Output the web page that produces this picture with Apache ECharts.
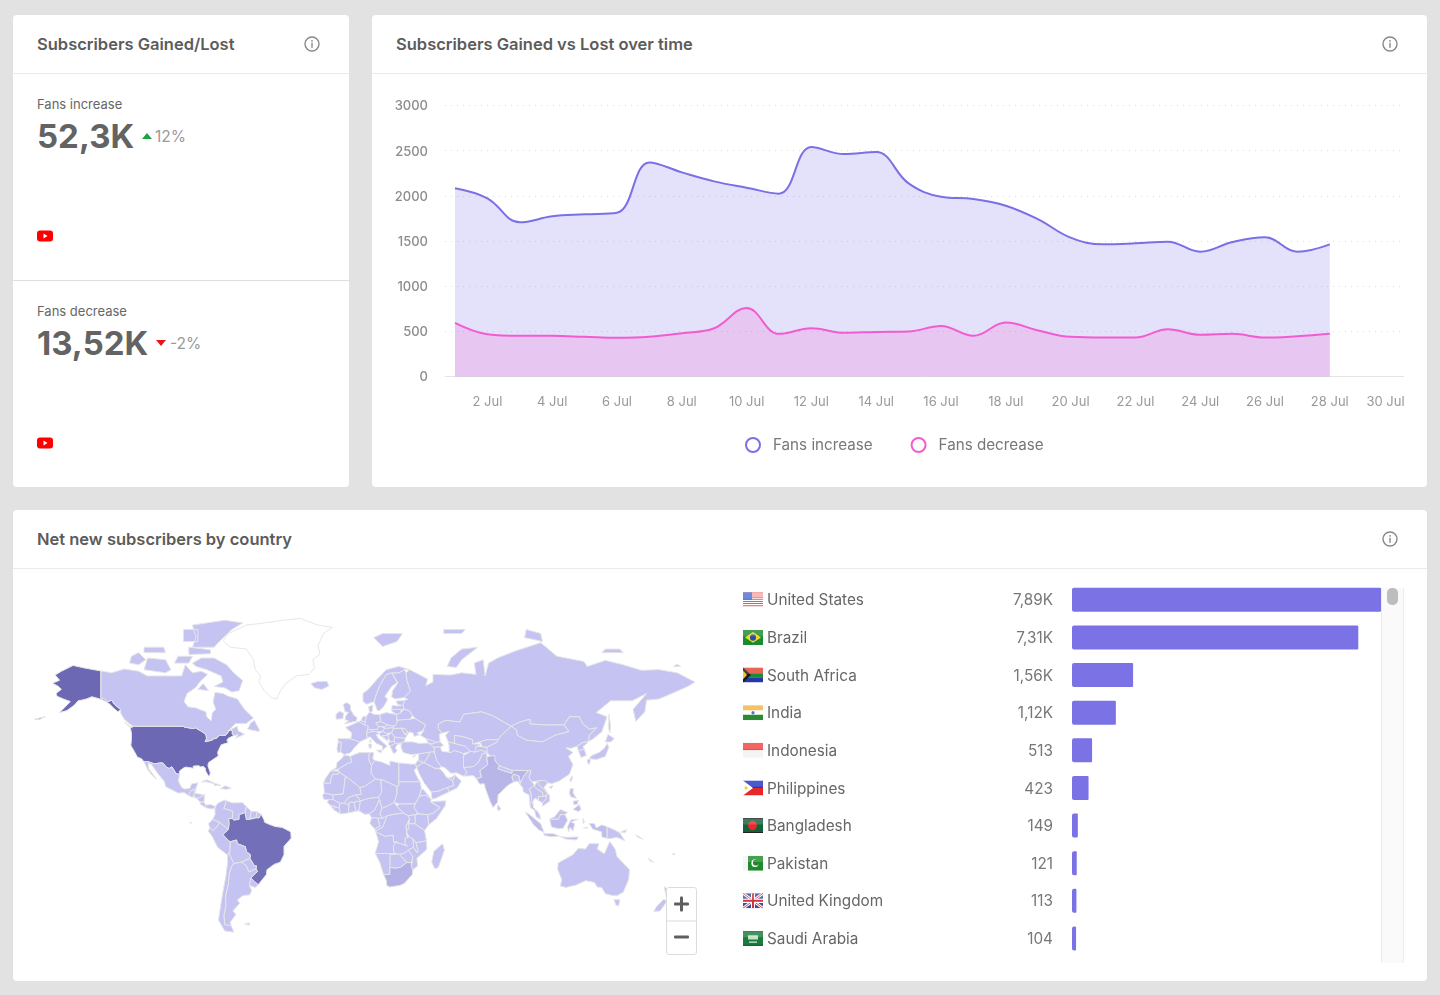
<!DOCTYPE html>
<html>
<head>
<meta charset="utf-8">
<title>Subscribers</title>
<script src="https://cdn.jsdelivr.net/npm/echarts@6/dist/echarts.min.js"></script>
<style>
  html, body { margin: 0; padding: 0; }
  body { width: 1440px; height: 995px; background: #e2e2e2; overflow: hidden; position: relative; font-family: Inter, "Noto Sans", sans-serif; color: #666; }
  .card { position: absolute; background: #fff; border-radius: 4px; }
  .abs { position: absolute; white-space: nowrap; }
  .title { font-size: 16.5px; font-weight: 600; color: #5c5c5c; line-height: 20px; }
  .rule { position: absolute; height: 1px; background: #ebebeb; }
  .label { font-size: 13px; color: #666; line-height: 16px; }
  .kpi { font-size: 33px; font-weight: 700; color: #636363; line-height: 40px; }
  .delta { font-size: 15.5px; color: #999; line-height: 20px; }
  .zoombox { position: absolute; left: 666px; top: 887px; width: 29px; height: 66px; border: 1px solid #dcdcdc; border-radius: 3px; background: #fff; }
</style>
</head>
<body>
<div class="card" style="left:13px;top:15px;width:336px;height:472px"></div>
<div class="card" style="left:372px;top:15px;width:1055px;height:472px"></div>
<div class="card" style="left:13px;top:510px;width:1414px;height:471px"></div>

<div class="abs title" style="left:37px;top:34px">Subscribers Gained/Lost</div>
<div class="abs title" style="left:396px;top:34px">Subscribers Gained vs Lost over time</div>
<div class="abs title" style="left:37px;top:529px">Net new subscribers by country</div>
<div class="rule" style="left:13px;top:73px;width:336px"></div>
<div class="rule" style="left:372px;top:73px;width:1055px"></div>
<div class="rule" style="left:13px;top:568px;width:1414px"></div>
<div class="rule" style="left:13px;top:280px;width:336px;background:#dedede"></div>

<div class="abs label" style="left:37px;top:96px">Fans increase</div>
<div class="abs kpi" style="left:37px;top:116px">52,3K</div>
<svg class="abs" style="left:142px;top:132px" width="10" height="8"><polygon points="5,1 10,7 0,7" fill="#1fa34a"/></svg>
<div class="abs delta" style="left:155px;top:127px">12%</div>

<div class="abs label" style="left:37px;top:303px">Fans decrease</div>
<div class="abs kpi" style="left:37px;top:323px">13,52K</div>
<svg class="abs" style="left:156px;top:339px" width="10" height="8"><polygon points="0,1 10,1 5,7" fill="#e8141c"/></svg>
<div class="abs delta" style="left:170px;top:334px">-2%</div>

<svg class="abs" style="left:37px;top:230px" width="16" height="12"><rect width="16" height="11" y="0.5" rx="3" fill="#f00"/><polygon points="6.5,3.5 10.5,6 6.5,8.5" fill="#fff"/></svg>
<svg class="abs" style="left:37px;top:437px" width="16" height="12"><rect width="16" height="11" y="0.5" rx="3" fill="#f00"/><polygon points="6.5,3.5 10.5,6 6.5,8.5" fill="#fff"/></svg>

<svg class="abs" style="left:304px;top:36px" width="16" height="16"><circle cx="8" cy="8" r="7" fill="none" stroke="#888" stroke-width="1.4"/><circle cx="8" cy="4.8" r="0.9" fill="#888"/><rect x="7.3" y="6.8" width="1.4" height="5" fill="#888"/></svg>
<svg class="abs" style="left:1382px;top:36px" width="16" height="16"><circle cx="8" cy="8" r="7" fill="none" stroke="#888" stroke-width="1.4"/><circle cx="8" cy="4.8" r="0.9" fill="#888"/><rect x="7.3" y="6.8" width="1.4" height="5" fill="#888"/></svg>
<svg class="abs" style="left:1382px;top:531px" width="16" height="16"><circle cx="8" cy="8" r="7" fill="none" stroke="#888" stroke-width="1.4"/><circle cx="8" cy="4.8" r="0.9" fill="#888"/><rect x="7.3" y="6.8" width="1.4" height="5" fill="#888"/></svg>

<div id="lineChart" class="abs" style="left:372px;top:74px;width:1031.5px;height:412px"></div>
<div id="mapChart" class="abs" style="left:13px;top:570px;width:722px;height:405px"></div>

<div class="abs" style="left:1381px;top:588px;width:21px;height:375px;background:#fafafa;border-left:1px solid #ececec;border-right:1px solid #ececec"></div>
<div class="abs" style="left:1387px;top:588px;width:11px;height:17px;border-radius:5px;background:#bdbdbd"></div>
<div id="barChart" class="abs" style="left:735px;top:575px;width:647px;height:390px"></div>

<div class="zoombox">
  <svg width="29" height="66">
    <rect x="0" y="32.5" width="29" height="1" fill="#dcdcdc"/>
    <rect x="7" y="14.5" width="15" height="3" rx="1" fill="#5f5f5f"/>
    <rect x="13" y="8.5" width="3" height="15" rx="1" fill="#5f5f5f"/>
    <rect x="7" y="47.5" width="15" height="3" rx="1" fill="#5f5f5f"/>
  </svg>
</div>

<script>
// daily series
const days = [1,2,3,4,5,6,7,8,9,10,11,12,13,14,15,16,17,18,19,20,21,22,23,24,25,26,27,28]
const fansIncrease = [2083,1972,1707,1773,1795,1813,2370,2260,2160,2090,2024,2540,2462,2484,2138,1990,1965,1891,1740,1537,1463,1474,1493,1382,1489,1541,1382,1463]
const fansDecrease = [593,468,450,450,439,428,439,479,534,759,472,534,483,494,498,560,450,597,509,439,431,431,523,461,472,431,446,472]
// the source squeezes its last label in, so 30 Jul sits left of day 30
const dayTicks = [2,4,6,8,10,12,14,16,18,20,22,24,26,28,29.72]

// country table
const countries = ['United States','Brazil','South Africa','India','Indonesia','Philippines','Bangladesh','Pakistan','United Kingdom','Saudi Arabia']
const countryValues = [7890,7310,1560,1120,513,423,149,121,113,104]
const countryLabels = ['7,89K','7,31K','1,56K','1,12K','513','423','149','121','113','104']

const PURPLE = '#7970e6'
const PINK = '#f25cd0'

// no map file can be fetched here, so the outlines are hand simplified [lon, lat] rings
const geoShapes = {
  'United States': [
    [[-124.7,48.4],[-123,49],[-95.2,49],[-94.6,48.7],[-92,48.3],[-89.6,48],[-88.4,48.3],[-84.9,46.9],[-84.5,46.5],[-83.6,46],[-82.5,45.3],[-82.1,43.6],[-82.9,42.1],[-79,42.8],[-79,43.3],[-76.8,43.6],[-75,45],[-71.5,45],[-70.3,46.2],[-69.2,47.4],[-67.8,47.1],[-67.8,45.7],[-67,44.9],[-70.2,43.6],[-70.8,42.7],[-70,41.7],[-74,40.6],[-75.5,38],[-76,37],[-75.6,35.3],[-77.9,33.9],[-81,32],[-81.4,30.5],[-80.1,26.8],[-80.4,25.2],[-81.2,25.2],[-82.7,27.8],[-82.9,29.2],[-84.1,30.1],[-85.3,29.7],[-86.5,30.4],[-89.6,30.2],[-89.4,29.1],[-91.3,29.4],[-93.8,29.7],[-95,29.2],[-97.2,27.7],[-97.2,25.9],[-99.2,26.4],[-101.4,29.8],[-103,29],[-104.5,29.6],[-106.5,31.8],[-108.2,31.8],[-111,31.3],[-114.8,32.5],[-117.1,32.5],[-118.5,34],[-120.6,34.6],[-122.4,37.5],[-124.3,40.3],[-124,43],[-124,46.2]],
    [[-141,69.6],[-141,60.3],[-139,60],[-137.5,58.9],[-135,59.5],[-133.5,58],[-130,55.9],[-131.5,55],[-134,56.5],[-136,58],[-140,59.7],[-146,60.8],[-149,60],[-152,59.5],[-153.5,59.4],[-156,57.5],[-160,55.5],[-164,54.7],[-158,59],[-162,60],[-165.5,61],[-166,62],[-163,63.5],[-165,64.6],[-168,65.6],[-164,66.6],[-166.5,68.3],[-163,69.5],[-156.5,71.3],[-150,70.5]],
    [[-178,52],[-172,53],[-175,52]]
  ],
  'Canada': [
    [[-141,69.6],[-135,69],[-128,70.2],[-120,69.5],[-115,68],[-108,68],[-103,68],[-96,68],[-94,71.5],[-90,69],[-85,69.5],[-81.5,68.5],[-86,66],[-88,64.2],[-93,62],[-94.7,59],[-92.5,57],[-88,56.5],[-82.5,55],[-82,52.9],[-79.5,51.3],[-79,54.5],[-77,56],[-78.5,58.8],[-77.5,62.4],[-73,62],[-70,61],[-65,60],[-61,56],[-56,52.5],[-60,50.2],[-66,50.2],[-70,47],[-65,49],[-64.5,47],[-61,45.5],[-66,43.6],[-64.5,45.3],[-67,44.9],[-67.8,45.7],[-67.8,47.1],[-69.2,47.4],[-70.3,46.2],[-71.5,45],[-75,45],[-76.8,43.6],[-79,43.3],[-79,42.8],[-82.9,42.1],[-82.1,43.6],[-82.5,45.3],[-83.6,46],[-84.5,46.5],[-84.9,46.9],[-88.4,48.3],[-89.6,48],[-92,48.3],[-94.6,48.7],[-95.2,49],[-123,49],[-125,50],[-128,52],[-130,54.5],[-130,55.9],[-133.5,58],[-135,59.5],[-137.5,58.9],[-139,60],[-141,60.3]],
    [[-90,72],[-85,73.5],[-78,73.5],[-71,71.5],[-67,69],[-62,66.5],[-64,63],[-68,62.5],[-72,64],[-78,64.5],[-73,66],[-74,68],[-82,70],[-88,71]],
    [[-117,70],[-105,69],[-102,70],[-105,73],[-115,73.5]],
    [[-125,72],[-120,71.5],[-116,73],[-120,75],[-124,74]],
    [[-90,76.5],[-78,76.5],[-75,78],[-68,81],[-62,82.5],[-72,83.1],[-90,82],[-88,79]],
    [[-92,74.5],[-80,74.7],[-80,75.8],[-92,76.5]],
    [[-117,75],[-105,75],[-106,76.5],[-117,76.5]],
    [[-95,78],[-87,78],[-87,81],[-95,81]],
    [[-100,72],[-92,72],[-90,74],[-98,74]],
    [[-87,63.5],[-81,63],[-84,65.5]],
    [[-59.3,47.7],[-53,46.7],[-52.7,47.5],[-55.5,51.5],[-57.5,50.5]],
    [[-128,50.7],[-123.5,48.4],[-125,48.8]]
  ],
  'Greenland': [[[-73,78.2],[-69,76.5],[-60,76],[-56,73],[-55,70],[-52,68],[-53,66],[-50,63],[-46,60.5],[-43,59.9],[-41,63],[-38,65.5],[-32,68],[-25,68.5],[-22,70.5],[-23,73],[-19,74.5],[-20,77],[-17,80],[-12,81.5],[-20,82],[-30,83.5],[-42,83],[-50,82.5],[-60,82],[-65,81],[-70,80]]],
  'Iceland': [[[-24,65.5],[-22,64],[-18,63.4],[-14,64.6],[-15,66.2],[-20,66.2]]],
  'Mexico': [[[-117.1,32.5],[-114.8,32.5],[-111,31.3],[-108.2,31.8],[-106.5,31.8],[-104.5,29.6],[-103,29],[-101.4,29.8],[-99.2,26.4],[-97.2,25.9],[-97.8,22.5],[-96,19],[-94.5,18.2],[-91.5,18.5],[-90.5,21],[-87,21.5],[-88,18.5],[-89,17.9],[-91,17.2],[-92.2,14.6],[-94.5,16.2],[-98,16],[-105,19.5],[-105.5,22],[-109,26],[-113,31.2],[-114.7,31.7],[-114.5,29],[-110,23.5],[-112,25],[-115,28.5]]],
  'Guatemala': [[[-92.2,14.6],[-91,17.2],[-89,17.9],[-88.9,15.9],[-89.2,14.3],[-90.5,13.9]]],
  'Belize': [[[-89,17.9],[-88,18.5],[-88.3,16.2],[-88.9,15.9]]],
  'Honduras': [[[-89.2,14.3],[-88.9,15.9],[-83.2,15],[-85,14],[-87.5,13]]],
  'El Salvador': [[[-90.1,13.8],[-89.2,14.3],[-87.8,13.3]]],
  'Nicaragua': [[[-87.5,13],[-85,14],[-83.2,15],[-83.6,11],[-85.7,11.1]]],
  'Costa Rica': [[[-85.7,11.1],[-83.6,11],[-82.6,9.5],[-83,8.2],[-85.6,9.9]]],
  'Panama': [[[-83,8.2],[-82.6,9.5],[-79.5,9.6],[-77.3,8.6],[-78,7.3],[-80.5,7.3]]],
  'Cuba': [[[-85,22],[-82,23.1],[-77,21],[-74.2,20.2],[-77.5,19.9],[-78,21],[-82,22]]],
  'Hispaniola': [[[-74.4,18.4],[-71.7,19.9],[-68.4,18.6],[-71,18]]],
  'Colombia': [[[-77.3,8.6],[-75.5,10.7],[-72,12.2],[-71.3,11],[-72.5,7.5],[-70,6.9],[-67.5,6],[-67.8,2],[-69.8,1.7],[-69.5,-1],[-70,-4.2],[-72,-2.5],[-75,-0.1],[-78.8,1.4],[-77.4,4],[-77.5,6.8]]],
  'Venezuela': [[[-72,12.2],[-68,10.6],[-62,10.7],[-60,8.5],[-60.7,5.2],[-64,4],[-64,1.5],[-67,1],[-67.8,2],[-67.5,6],[-70,6.9],[-72.5,7.5],[-71.3,11]]],
  'Guyana': [[[-60,8.5],[-57.2,6],[-58,1.5],[-60,1.3],[-60.7,5.2]]],
  'Suriname': [[[-57.2,6],[-54,5.8],[-54.5,2.3],[-58,2]]],
  'French Guiana': [[[-54,5.8],[-51.6,4.2],[-53,2.2],[-54.5,2.3]]],
  'Ecuador': [[[-78.8,1.4],[-75,-0.1],[-75.5,-1.5],[-78.4,-4.9],[-80.3,-3.4],[-81,-1]],[[-91.5,-0.3],[-90.5,-0.3],[-91,-1]]],
  'Peru': [[[-80.3,-3.4],[-78.4,-4.9],[-75.5,-1.5],[-75,-0.1],[-72,-2.5],[-70,-4.2],[-73,-7],[-70.6,-9.6],[-69,-11],[-69,-16],[-70.4,-18.3],[-76,-14],[-79,-8],[-81.3,-5]]],
  'Brazil': [[[-60.7,5.2],[-60,1.3],[-58,1.5],[-58,2],[-54.5,2.3],[-53,2.2],[-51.6,4.2],[-50,1],[-50,0],[-48,-1],[-44,-2.5],[-40,-3],[-35.2,-5.5],[-35,-9],[-39,-13.5],[-39,-18],[-41,-22],[-44.5,-23.2],[-48.5,-26],[-48.8,-28.5],[-53.4,-33.7],[-57.6,-30.2],[-53.8,-27],[-54.6,-25.5],[-54.3,-24],[-55.5,-24],[-58,-20],[-57.8,-18],[-60,-16.3],[-60.5,-13.7],[-65,-12],[-65.4,-10],[-69,-11],[-70.6,-9.6],[-73,-7],[-70,-4.2],[-69.5,-1],[-69.8,1.7],[-67.8,2],[-67,1],[-64,1.5],[-64,4]]],
  'Bolivia': [[[-69,-11],[-65.4,-10],[-65,-12],[-60.5,-13.7],[-60,-16.3],[-57.8,-18],[-58,-20],[-62.7,-22],[-67,-22.8],[-68.5,-19.5],[-69.5,-17.5],[-69,-16]]],
  'Paraguay': [[[-58,-20],[-55.5,-24],[-54.3,-24],[-54.6,-25.5],[-58.5,-27.2],[-60,-24],[-62.7,-22]]],
  'Uruguay': [[[-57.6,-30.2],[-53.4,-33.7],[-55,-35],[-58.3,-34]]],
  'Argentina': [[[-67,-22.8],[-62.7,-22],[-60,-24],[-58.5,-27.2],[-54.6,-25.5],[-53.8,-27],[-57.6,-30.2],[-58.3,-34],[-57,-36.5],[-58,-38.5],[-62,-39],[-65,-41],[-63.7,-42.5],[-67.5,-46],[-65.8,-47.5],[-69,-51],[-68.4,-52.4],[-72,-52],[-72.5,-48],[-71.5,-44],[-71.5,-39],[-70,-33],[-69.5,-28],[-68.3,-24.5]],[[-61,-51.5],[-58,-51.3],[-58.5,-52.2]]],
  'Chile': [[[-70.4,-18.3],[-69.5,-17.5],[-68.5,-19.5],[-67,-22.8],[-68.3,-24.5],[-69.5,-28],[-70,-33],[-71.5,-39],[-71.5,-44],[-72.5,-48],[-72,-52],[-68.4,-52.4],[-67,-55],[-72,-54.5],[-75.5,-50],[-74,-42],[-73,-37],[-71.5,-30],[-70.5,-23]]],
  'Morocco': [[[-13,27.7],[-9.8,29.5],[-9.5,32],[-6.8,34],[-5.5,35.8],[-2,35.1],[-1.2,32.2],[-3.5,31.5],[-8.7,28.7]]],
  'Western Sahara': [[[-17,21.3],[-16,23.7],[-13,27.7],[-8.7,27.7],[-8.7,26],[-12,26],[-13,23],[-13,21.3]]],
  'Algeria': [[[-8.7,28.7],[-3.5,31.5],[-1.2,32.2],[-2,35.1],[3,36.9],[8.6,36.9],[8.2,33.5],[9.8,30.5],[9.5,26.5],[12,23.5],[5.8,19.5],[3.2,19],[1.2,20.7],[-4.8,25],[-8.7,27.3]]],
  'Tunisia': [[[8.6,36.9],[11,37],[10.5,34],[11.5,33],[9.8,30.5],[8.2,33.5]]],
  'Libya': [[[11.5,33],[15,32.4],[20,30.5],[20,32.8],[25,31.8],[25,20],[24,19.5],[16,23],[12,23.5],[9.5,26.5],[9.8,30.5]]],
  'Egypt': [[[25,31.8],[32,31.2],[34.3,31.3],[34.9,29.5],[33.5,28],[35.8,23.5],[36.9,22],[25,22]]],
  'Mauritania': [[[-17,21.3],[-13,21.3],[-13,23],[-12,26],[-8.7,26],[-8.7,27.3],[-4.8,25],[-6,15.5],[-12,15],[-16.5,16]]],
  'Mali': [[[-12,15],[-6,15.5],[-4.8,25],[1.2,20.7],[3.2,19],[4.2,15.3],[1,15],[-3,13.5],[-5.5,10.4],[-8,10.4],[-11.4,12.3]]],
  'Niger': [[[3.2,19],[5.8,19.5],[12,23.5],[15,23],[15.5,16.5],[13.6,13.7],[8,13],[3.6,11.7],[1,15],[4.2,15.3]]],
  'Chad': [[[15,23],[16,23],[24,19.5],[24,15.5],[22.5,11],[19,9],[15.5,7.5],[14.2,12.5],[13.6,13.7],[15.5,16.5]]],
  'Sudan': [[[24,19.5],[25,20],[25,22],[36.9,22],[37.5,18.5],[36.5,14.3],[34.3,10.5],[33,10],[29,10],[25,10],[22.5,11],[24,15.5]]],
  'South Sudan': [[[25,10],[29,10],[33,10],[34.3,10.5],[33.5,7.8],[35.5,5],[34,4],[30,3.5],[27.5,5],[24,8.6]]],
  'Eritrea': [[[36.5,14.3],[37.5,18],[38.6,18],[43,12.7],[40,14.8]]],
  'Ethiopia': [[[36.5,14.3],[40,14.8],[43,12.7],[42.7,11],[48,8],[44,4.8],[41,4],[36,4.5],[35.5,5],[33.5,7.8],[34.3,10.5]]],
  'Somalia': [[[43,11.3],[51.2,11.8],[50.8,9],[46,2],[41.5,-1.7],[41,4],[44,4.8],[48,8]]],
  'Senegal': [[[-17.5,14.7],[-16.5,16],[-12,15],[-11.4,12.3],[-16.7,12.4]]],
  'Guinea': [[[-15,11],[-13.7,12.6],[-11.4,12.3],[-8,10.4],[-8.2,7.6],[-10.5,8.5],[-13,9.2]]],
  'Sierra Leone': [[[-13,9.2],[-10.5,8.5],[-11.5,6.9]]],
  'Liberia': [[[-11.5,6.9],[-10.5,8.5],[-8.2,7.6],[-7.5,4.4]]],
  'Ivory Coast': [[[-7.5,4.4],[-8.2,7.6],[-8,10.4],[-5.5,10.4],[-2.8,9.5],[-3,5.1]]],
  'Ghana': [[[-3,5.1],[-2.8,9.5],[-2.8,11],[0,11],[1.1,6]]],
  'Burkina Faso': [[[-5.5,10.4],[-3,13.5],[1,15],[3.6,11.7],[0,11],[-2.8,11],[-2.8,9.5]]],
  'Benin': [[[1.1,6],[0,11],[3.6,11.7],[2.7,6.3]]],
  'Nigeria': [[[2.7,6.3],[3.6,11.7],[8,13],[13.6,13.7],[14.2,12.5],[11.5,6.7],[8.5,4.5],[6,4.3]]],
  'Cameroon': [[[8.5,4.5],[11.5,6.7],[14.2,12.5],[15.5,7.5],[14.5,4.5],[16,2],[9.8,2.3]]],
  'Central African Republic': [[[15.5,7.5],[19,9],[22.5,11],[24,8.6],[27.5,5],[22,4.2],[18.5,3.5],[16,2],[14.5,4.5]]],
  'Gabon': [[[9.8,2.3],[13.3,2.2],[14.5,-2.3],[11.5,-3.9],[8.8,-0.8]]],
  'Congo': [[[13.3,2.2],[16,2],[18.5,3.5],[16,-3],[12,-5],[11.5,-3.9],[14.5,-2.3]]],
  'DR Congo': [[[18.5,3.5],[22,4.2],[27.5,5],[30,3.5],[31,2.2],[29,-2.5],[29.5,-8],[30.7,-8.2],[28.5,-9],[28.5,-12],[29.8,-13.4],[26,-12],[22,-11],[21.8,-7.3],[17.5,-8],[13,-5.9],[12,-5],[16,-3]]],
  'Uganda': [[[30,3.5],[34,4],[34.2,1],[33.9,-1],[30.5,-1],[31,2.2]]],
  'Kenya': [[[34,4],[36,4.5],[41,4],[41.5,-1.7],[39.3,-4.7],[33.9,-1],[34.2,1]]],
  'Tanzania': [[[30.5,-1],[33.9,-1],[39.3,-4.7],[40.4,-10.5],[34.5,-11.5],[32.9,-9.4],[30.7,-8.2],[29.5,-6],[29.5,-3]]],
  'Rwanda': [[[29,-1.4],[30.5,-1],[30.5,-4],[29.3,-4.4]]],
  'Angola': [[[12,-5],[13,-5.9],[17.5,-8],[21.8,-7.3],[22,-11],[24,-11],[22,-13],[22,-16],[23.4,-17.6],[18.5,-17.4],[11.8,-17.3],[13.7,-11]]],
  'Zambia': [[[22,-11],[26,-12],[29.8,-13.4],[28.5,-12],[28.5,-9],[30.7,-8.2],[32.9,-9.4],[33.2,-14],[30.2,-15.6],[27.5,-17.5],[25.2,-17.8],[23.4,-17.6],[22,-16],[22,-13],[24,-11]]],
  'Malawi': [[[32.9,-9.4],[34.5,-11.5],[35.8,-16],[35,-17],[33.2,-14]]],
  'Mozambique': [[[34.5,-11.5],[40.4,-10.5],[40.6,-15],[35,-20],[35.5,-24],[32.8,-26],[32,-24.5],[32.8,-19],[30.2,-15.6],[33.2,-14],[35,-17],[35.8,-16]]],
  'Zimbabwe': [[[25.2,-17.8],[27.5,-17.5],[30.2,-15.6],[32.8,-19],[32,-22.3],[29.4,-22.2]]],
  'Botswana': [[[20,-18],[23.4,-17.6],[25.2,-17.8],[29.4,-22.2],[26,-24.7],[23,-25.2],[20,-24.8]]],
  'Namibia': [[[11.8,-17.3],[18.5,-17.4],[23.4,-17.6],[20,-18],[20,-28.4],[16.5,-28.6],[14.5,-22.5]]],
  'South Africa': [[[16.5,-28.6],[20,-28.4],[20,-24.8],[23,-25.2],[26,-24.7],[29.4,-22.2],[32,-22.3],[32,-24.5],[32.8,-26],[32.5,-28.5],[28,-33],[25.5,-34],[20,-34.8],[18.3,-34],[18,-31.5]]],
  'Madagascar': [[[49.3,-12],[50.4,-15.5],[47,-24.8],[45,-25.5],[43.3,-22],[44.4,-16.3]]],
  'Portugal': [[[-9,37],[-7.4,37.2],[-7,42],[-8.8,41.9],[-9.5,38.8]]],
  'Spain': [[[-8.8,41.9],[-7,42],[-7.4,37.2],[-5.5,36],[-2,36.8],[0,39],[3.2,42],[-1.8,43.4],[-9,43.5]]],
  'France': [[[-1.8,43.4],[3.2,42],[7.5,43.7],[7,46],[8,49],[2.5,51],[-1.5,49.5],[-4.7,48.5],[-1.2,46]],[[8.6,42.5],[9.5,43],[9.3,41.5]]],
  'Belgium': [[[2.5,51],[6,49.5],[6.2,50.8],[4,51.4]]],
  'Netherlands': [[[4,51.4],[6.2,50.8],[7,53.3],[4.8,53]]],
  'Germany': [[[6.2,50.8],[6,49.5],[8,49],[7.6,47.6],[13,47.6],[13.8,48.8],[12.2,50.3],[15,51],[14.3,53.9],[11,54],[8.6,54.9],[7,53.3]]],
  'Switzerland': [[[7,46],[10.4,46.8],[9.6,47.5],[7.6,47.6]]],
  'Italy': [[[7.5,43.7],[9,44.4],[10.5,42.9],[12.5,41.3],[15.8,40],[16,38],[17,39],[18.5,40],[16,41.8],[13.6,43.6],[12.3,45.3],[13.7,45.6],[13,46.6],[10.4,46.8],[7,46]],[[12.5,38],[15.5,38.2],[15,36.7]],[[8.2,41],[9.7,41],[9.5,39],[8.5,39]]],
  'Austria': [[[9.6,47.5],[10.4,46.8],[13,46.6],[16,46.8],[17,48],[15,49],[13.8,48.8],[13,47.6]]],
  'Czechia': [[[12.2,50.3],[13.8,48.8],[15,49],[17,48.7],[18.8,49.5],[15,51]]],
  'Poland': [[[14.3,53.9],[15,51],[18.8,49.5],[22.6,49.1],[24,50.5],[23.6,54],[19.5,54.4],[18.5,54.8]]],
  'Slovakia': [[[17,48.7],[18.8,49.5],[22.6,49.1],[22,48.4],[17,48]]],
  'Hungary': [[[16,46.8],[17,48],[22,48.4],[21,46.2],[18,45.8]]],
  'Croatia': [[[13.7,45.6],[16,46.8],[18,45.8],[19,45],[15.8,44.8],[18.5,42.4],[14.5,45]]],
  'Bosnia': [[[15.8,44.8],[19,45],[19.2,43.5],[18.5,42.5]]],
  'Serbia': [[[19,45],[21,46.2],[22.6,44.2],[22.4,42.3],[20.5,42],[19.2,43.5]]],
  'Albania': [[[19.3,42],[20.5,42],[22.4,42.3],[23,41.3],[20.5,40],[19.4,40.5]]],
  'Greece': [[[20,39.7],[20.5,40],[23,41.3],[26.3,41.5],[23.8,40.5],[23,39],[24,38],[22.8,36.5],[21.5,37],[21,38.5]]],
  'Bulgaria': [[[22.4,42.3],[22.6,44.2],[28.5,43.7],[28,42],[26.3,41.5],[23,41.3]]],
  'Romania': [[[21,46.2],[22,48],[26.5,48.2],[28.2,45.5],[29.6,45],[28.5,43.7],[22.6,44.2]]],
  'Moldova': [[[26.5,48.2],[28.5,48],[30,46.4],[28.2,45.5]]],
  'Ukraine': [[[22,48.4],[22.6,49.1],[24,50.5],[24,51.6],[31,52],[34,52.3],[40,49.6],[38.2,47],[35,46],[36.5,45.3],[33.5,44.5],[33,46],[30.7,46.5],[29.6,45],[28.2,45.5],[30,46.4],[28.5,48],[26.5,48.2],[22,48]]],
  'Belarus': [[[24,51.6],[31,52],[32.7,53.4],[30.8,55.5],[28,56],[25.8,54.5],[23.6,54]]],
  'Lithuania': [[[21,56],[26.5,56],[25.8,54.5],[23.6,54],[21,55.3]]],
  'Latvia': [[[21,56],[21.2,57.5],[24.3,57.3],[27.5,57.5],[28,56],[26.5,56]]],
  'Estonia': [[[23.5,59.2],[28,59.4],[27.5,57.5],[24.3,57.9]]],
  'Finland': [[[21,60.7],[23,60],[28,60.5],[31.5,62.8],[29.5,66.5],[29,69],[28,70],[25,69],[21,69],[24.5,65.7],[21.5,63]]],
  'Sweden': [[[11.2,59],[13,55.5],[14.3,55.5],[16.5,57],[18.8,59.8],[17.2,61],[21,64.5],[24,65.8],[21,69],[18,68.5],[14.5,65],[12,61]]],
  'Norway': [[[5,59],[7.2,58],[11.2,59],[12,61],[14.5,65],[18,68.5],[21,69],[25,69],[28,70],[31,70],[25,71],[18,70],[13,67],[8,63.5],[5,62]],[[11,79],[16,76.7],[24,78],[27,80],[16,80]]],
  'Denmark': [[[8.1,57],[10.6,57.7],[10.2,55],[8.6,54.9]]],
  'United Kingdom': [[[-5.5,50],[1.4,51.2],[1.7,52.7],[0,53.5],[-2,56],[-2,57.7],[-4,58.6],[-6,58],[-5,55],[-3,54.8],[-4.7,53.2],[-5,51.8],[-3,51.3]]],
  'Ireland': [[[-10,52],[-6.2,52.2],[-5.8,54.5],[-8,55.2],[-10,54]]],
  'Russia': [
    [[27.5,57.5],[28,59.4],[30,59.9],[28,60.5],[31.5,62.8],[29.5,66.5],[29,69],[31,70],[41,67],[40,64.7],[44,66],[44,68.5],[54,68.3],[60,69],[68,68.5],[67,72],[72,73],[73,68],[75,72],[80,73.5],[90,75.5],[104,77.7],[113,74],[128,72.5],[130,71],[140,72.8],[150,71.5],[160,69.8],[170,70],[180,69],[190,66],[186,64.5],[179,62.5],[170,60],[163,59.5],[162,55],[157,51],[155.5,56],[163,62],[155,59.3],[143,59.3],[135,54.7],[141,53],[138,46.5],[132.5,43],[130.7,42.3],[131,45],[135,48.3],[131,47.7],[127.5,50],[125.5,53],[120,53],[117,49.6],[108,49.5],[98,50],[98,52],[92,50.7],[87.5,49],[83,51],[77,53.5],[71,55],[61,54],[59,50.8],[51,51.5],[47,50],[47,48],[49,46],[47.5,45.5],[48,42],[46,41.8],[40,43.5],[37,45],[39,47.2],[38.2,47],[40,49.6],[34,52.3],[32.7,53.4],[30.8,55.5],[28,56]],
    [[142,54],[143,49],[142.5,46],[141.9,48]],
    [[52,71],[57,70.7],[60,73],[69,76.5],[60,76],[54,73.5]],
    [[95,79],[105,78],[104,80],[96,81]],
    [[138,75],[150,75],[148,76],[140,76]],
    [[178,71],[182,71],[180,71.7]],
    [[50,80],[60,80],[62,81],[50,81]]
  ],
  'Kazakhstan': [[[47,50],[51,51.5],[59,50.8],[61,54],[71,55],[77,53.5],[83,51],[87.5,49],[85,47],[82.5,45.3],[80,42.9],[74,43],[70,42],[66,41],[66,43],[60,44.5],[56,45],[56,41.3],[52.5,42],[51,45],[53,46.8],[49,46],[47,48]]],
  'Mongolia': [[[87.5,49],[92,50.7],[98,52],[98,50],[108,49.5],[117,49.6],[119.8,46.7],[112,45],[105,42],[96,42.8],[91,45],[90.5,47.5]]],
  'China': [[[74,39.5],[80,42],[80,42.9],[82.5,45.3],[85,47],[87.5,49],[90.5,47.5],[91,45],[96,42.8],[105,42],[112,45],[119.8,46.7],[117,49.6],[120,53],[125.5,53],[127.5,50],[131,47.7],[135,48.3],[131,45],[130.7,42.3],[127,41.5],[124.3,40],[121,39],[118,39.2],[122,37],[119.5,35],[122,31],[120,26],[114,22.3],[110,21],[108,21.6],[106,22.8],[102,22.4],[99,22],[97.5,24],[98.5,28],[92,28],[88,28],[81,30.3],[78.5,33],[74,37]],[[108.7,19.3],[110.8,20],[110,18.3]]],
  'North Korea': [[[124.3,40],[127,41.5],[130.7,42.3],[129.5,41],[127.5,39.8],[128.3,38.6],[125,37.8]]],
  'South Korea': [[[125,37.8],[128.3,38.6],[129.4,35.5],[126.5,34.5]]],
  'Japan': [[[130.9,34],[135,33.5],[140,35],[142,39.5],[141,41.3],[139.5,39],[136.5,37],[132.5,35.5]],[[140,42],[141.5,45.4],[145,43.5],[143,42]],[[130,33.5],[131.9,33.5],[131,31],[130,32]]],
  'Taiwan': [[[120.2,23],[121.5,25.2],[121.8,24],[120.8,22]]],
  'Vietnam': [[[102,22.4],[106,22.8],[108,21.6],[105.8,19],[109,14.5],[109,11.5],[105,8.7],[105,10.5],[107,13],[107.7,16],[105,18.5],[103,20.5]]],
  'Laos': [[[102,22.4],[103,20.5],[105,18.5],[107.7,16],[107,14.5],[105.5,14.3],[104.8,16.5],[102,18],[100.5,19.5]]],
  'Cambodia': [[[102.7,12],[102.5,14],[105.5,14.3],[107,14.5],[107,13],[105,10.5]]],
  'Thailand': [[[98,10],[99,12],[98.5,16],[97.5,18],[100.5,20.3],[100.5,19.5],[102,18],[104.8,16.5],[105.5,14.3],[102.5,14],[102.7,12],[100.8,13.3],[99.5,11],[100,8],[102,6.2],[100.5,6.5],[98.3,8]]],
  'Myanmar': [[[92.5,20.5],[93,24],[94.5,25],[97,27.8],[98.5,28],[97.5,24],[99,22],[100.5,20.3],[97.5,18],[98.5,16],[99,12],[98,10],[97.5,15],[95.5,16],[94.3,16.5],[94,19]]],
  'Malaysia': [[[100.5,6.5],[102,6.2],[103.5,4],[104,1.5],[101.5,2.8]],[[109.6,2],[111.5,2.7],[115,7],[119,5.3],[117.5,4.2],[115,4],[114,1.5],[109,1.5]]],
  'Indonesia': [
    [[109,1.5],[114,1.5],[115,4],[117.5,4.2],[119,1],[116.5,-3.5],[114,-3.8],[110,-2.8]],
    [[95.3,5.6],[98,4],[104,-1],[106,-5.8],[103,-4.5],[100,-1.5]],
    [[105.5,-6.5],[111,-6.5],[114.5,-7.8],[110,-8.2],[106,-7.5]],
    [[119.5,-5.5],[119,-2.5],[120.8,1.2],[125,1.5],[121,0],[123,-1],[122,-5],[120.5,-3]],
    [[115,-8.2],[119,-8.5],[125,-8.3],[124,-10],[118,-9.5]],
    [[127.5,2],[128.5,0],[127.7,-0.8]],
    [[127.8,-3],[130.5,-3.3],[129,-3.5]],
    [[131,-0.8],[134,-0.8],[135,-3.3],[138,-1.6],[141,-2.6],[141,-9.1],[138,-8.3],[138,-5.5],[133,-4]]
  ],
  'Papua New Guinea': [[[141,-2.6],[145,-4.3],[148,-6],[151,-10.5],[146.5,-8.5],[143,-9.2],[141,-9.1]],[[148.5,-5.6],[152,-4.2],[151,-6]]],
  'Solomon Islands': [[[157,-7],[161,-9.5],[158,-8.5]]],
  'New Caledonia': [[[164,-20],[167,-22],[165,-21.5]]],
  'Fiji': [[[177.5,-17.5],[179,-17.5],[178,-18.2]]],
  'Philippines': [[[120.5,18.4],[122.2,18.4],[122,16],[124,13],[120.8,14],[120,16]],[[122,7],[125.5,9.7],[126.5,7],[125,5.8]],[[122,11.5],[125,12],[124.5,10],[122.5,9.5]]],
  'Australia': [[[113.7,-22.5],[117,-20.7],[122,-18],[125,-14.5],[129,-15],[131,-12],[136.5,-12],[135.5,-15],[139.5,-17.5],[141.7,-12.5],[142.5,-10.8],[145.5,-15],[146.5,-19],[150,-22.5],[153.5,-26],[153,-31],[150,-37.3],[146.5,-39],[143.5,-38.8],[140,-38],[138,-35],[135.5,-34.8],[134,-32.5],[129,-31.6],[123.5,-33.9],[118,-35],[115,-34.3],[115.7,-31],[113.5,-26]],[[144.8,-40.8],[148.2,-40.9],[147.5,-43.5],[146,-43.5]]],
  'New Zealand': [[[172.8,-34.5],[175.5,-36.5],[178.5,-37.7],[175.2,-41.6],[174,-39.5]],[[172.7,-40.6],[174.2,-41.8],[170.5,-46],[167,-46.3],[168.5,-44]]],
  'India': [[[68.2,23.7],[71,24.5],[70,27.8],[74.5,31],[74,33.5],[74,35],[78.5,35.5],[78.5,33],[81,30.3],[80.2,28.8],[88,26.5],[88,28],[92,28],[97,27.8],[94.5,25],[93,22],[92,23.5],[92,25],[89,26],[88,24.5],[89,21.8],[87,21],[85,19.5],[80.3,15],[80,11],[77.5,8],[76,11],[73,19],[72.6,21],[70,20.8]]],
  'Nepal': [[[80.2,28.8],[81,30.3],[88,28],[88,26.5]]],
  'Bangladesh': [[[88,24.5],[89,26],[92,25],[92,23.5],[92.5,20.7],[91,22.5],[89,21.8]]],
  'Sri Lanka': [[[80,9.7],[81.8,7.5],[80.6,6],[79.8,7.5]]],
  'Pakistan': [[[61,25],[66.5,25.3],[68.2,23.7],[71,24.5],[70,27.8],[74.5,31],[74,33.5],[74,35],[74,37],[71.5,36.3],[70,33.5],[69,31.8],[66.5,30],[61,29.5],[63,27]]],
  'Afghanistan': [[[61,29.5],[66.5,30],[69,31.8],[70,33.5],[71.5,36.3],[74,37],[71,38.2],[67.5,37.2],[65,37.5],[61,35.5]]],
  'Iran': [[[44.5,39.5],[48,39.7],[49,37.5],[54,37],[56,38],[61,36.5],[61,35.5],[61,29.5],[63,27],[61,25],[57,26.8],[54,26.5],[50.5,29.5],[48.5,30],[46,33],[45,36]]],
  'Turkmenistan': [[[53,37],[54,37],[56,38],[61,36.5],[65,37.5],[62,40],[56,41.3],[52.5,42],[53,40]]],
  'Uzbekistan': [[[56,41.3],[62,40],[65,37.5],[67.5,37.2],[68,39.5],[71,41],[66,41],[66,43],[60,44.5],[56,45]]],
  'Tajikistan': [[[67.5,37.2],[71,38.2],[74,37],[74,39.5],[68,40]]],
  'Kyrgyzstan': [[[70,42],[74,43],[80,42.9],[80,42],[74,39.5],[71,40],[71,41]]],
  'Turkey': [[[26.3,41.5],[28,42],[33,42],[36,41.3],[41.5,41.5],[44.5,39.5],[44.8,37.2],[36.5,36.3],[32,36],[30,36.3],[27.3,37],[26.2,39.5]]],
  'Georgia': [[[40,43.5],[46,41.8],[44,41],[41.5,41.5]]],
  'Azerbaijan': [[[44,41],[46,41.8],[48,42],[50,40.3],[48,39.7],[44.5,39.5],[41.5,41.5]]],
  'Saudi Arabia': [[[34.9,29.5],[37.5,31.5],[39,32],[44.8,29.2],[48,28.7],[50,26.7],[51.5,24.5],[55,22.7],[55.7,20],[52,19],[47,17],[43,16.5],[42.5,16.5],[39,21.5],[36.5,26]]],
  'Yemen': [[[43,16.5],[47,17],[52,19],[53,16.7],[45,12.9],[43.5,12.7]]],
  'Oman': [[[55.7,20],[55,22.7],[56.3,25.5],[59.8,22.5],[57.5,18.8],[53,16.7],[52,19]]],
  'UAE': [[[51.5,24.5],[54,24.2],[56.3,25.9],[55,22.7]]],
  'Iraq': [[[39,32],[41,34.5],[42.3,37.2],[44.8,37.2],[46,33],[48.5,30],[47.5,29],[44.8,29.2]]],
  'Syria': [[[36,32.7],[36,35.8],[36.5,36.3],[42.3,37.2],[41,34.5],[39,32]]],
  'Jordan': [[[34.3,31.3],[35.5,33.1],[36,32.7],[39,32],[37.5,31.5],[34.9,29.5]]],
  'Cyprus': [[[32.3,35],[34.5,35.6],[33.5,34.7]]]
}

// small flags, painted as svg strings behind the axis labels
function flag(body) {
  const gloss = '<rect width="20" height="6" fill="#fff" opacity="0.18"/>'
  const svg = '<svg xmlns="http://www.w3.org/2000/svg" width="20" height="14" viewBox="0 0 20 14">' + body + gloss + '</svg>'
  return 'data:image/svg+xml;charset=utf-8,' + encodeURIComponent(svg)
}
const r = (x, y, w, h, c) => `<rect x="${x}" y="${y}" width="${w}" height="${h}" fill="${c}"/>`
const countryFlags = [
  flag(r(0,0,20,14,'#fff') + [0,2,4,6,8,10,12].map(y => r(0,y,20,1,'#e45a5a')).join('') + r(0,0,9,7,'#4a72d8')),
  flag(r(0,0,20,14,'#1c8a2e') + '<polygon points="10,2 18,7 10,12 2,7" fill="#f2d824"/><circle cx="10" cy="7" r="3" fill="#2a4fa0"/>'),
  flag(r(0,0,20,5,'#e0452e') + r(0,9,20,5,'#2438a8') + r(0,5,20,4,'#1c8a3e') + '<polygon points="0,0 8,7 0,14" fill="#1a1a1a"/><polygon points="0,3 4,7 0,11" fill="#f2c81e"/>'),
  flag(r(0,0,20,5,'#f5b342') + r(0,5,20,4,'#fff') + r(0,9,20,5,'#2c8a32') + '<circle cx="10" cy="7" r="1.6" fill="#5a70c0"/>'),
  flag(r(0,0,20,7,'#ee4444') + r(0,7,20,7,'#f4f4f4')),
  flag(r(0,0,20,7,'#2434c4') + r(0,7,20,7,'#e82828') + '<polygon points="0,0 10,7 0,14" fill="#fff"/><circle cx="3" cy="7" r="1.5" fill="#f2d020"/>'),
  flag(r(0,0,20,14,'#12613a') + '<circle cx="9.5" cy="7" r="4.4" fill="#ea2a2a"/>' + r(0,0,20,1,'#222') + r(0,13,20,1,'#222')),
  flag(r(0,0,5,14,'#f4f4f4') + r(5,0,15,14,'#1f8a2c') + '<circle cx="12" cy="7" r="3.6" fill="#fff"/><circle cx="13" cy="6.3" r="3" fill="#1f8a2c"/>'),
  flag(r(0,0,20,14,'#3a4f9a') + '<path d="M0,0L20,14M20,0L0,14" stroke="#fff" stroke-width="2.6"/><path d="M0,0L20,14M20,0L0,14" stroke="#d03040" stroke-width="0.9"/>' + r(8,0,4,14,'#fff') + r(0,5,20,4,'#fff') + r(9,0,2,14,'#d03040') + r(0,6,20,2,'#d03040')),
  flag(r(0,0,20,14,'#1c7a3a') + r(5,4,10,4,'#bfe3c8') + r(6,10,8,1,'#d8eedd') + r(0,0,20,1,'#164') + r(0,13,20,1,'#164'))
]

const lineChart = echarts.init(document.getElementById('lineChart'))
lineChart.setOption({
  animation: false,
  grid: { left: 73, right: 0, top: 31.5, height: 271, outerBoundsMode: 'none' },
  legend: {
    left: 368, top: 358,
    itemWidth: 14, itemHeight: 14, itemGap: 38,
    textStyle: { fontFamily: 'Inter', fontSize: 15.2, color: '#777', padding: [0, 0, 0, 8] },
    data: [
      { name: 'Fans increase', icon: 'circle', itemStyle: { color: '#fff', borderColor: PURPLE, borderWidth: 2 } },
      { name: 'Fans decrease', icon: 'circle', itemStyle: { color: '#fff', borderColor: PINK, borderWidth: 2 } }
    ]
  },
  xAxis: {
    type: 'value', min: 0.692, max: 30.29,
    splitLine: { show: false },
    axisTick: { show: false },
    axisLine: { show: true, onZero: false, lineStyle: { color: '#e5e5e5' } },
    axisLabel: {
      customValues: dayTicks,
      margin: 19,
      fontFamily: 'Inter', fontSize: 13, color: '#999',
      formatter: v => Math.round(v) + ' Jul'
    }
  },
  yAxis: {
    type: 'value', min: 0, max: 3000, interval: 500,
    axisLine: { show: false },
    axisTick: { show: false },
    axisLabel: {
      margin: 17,
      rich: { v: { padding: [2, 0, 0, 0], fontFamily: 'Inter', fontSize: 13, fontWeight: 500, color: '#8c8c8c' } },
      formatter: v => `{v|${v}}`
    },
    splitLine: { lineStyle: { type: [1, 5], color: '#dcdcdc' } }
  },
  series: [
    { name: 'Fans increase', values: fansIncrease, color: PURPLE },
    { name: 'Fans decrease', values: fansDecrease, color: PINK }
  ].map(s => ({
    name: s.name,
    type: 'line',
    data: days.map((d, i) => [d, s.values[i]]),
    smooth: 0.4,
    showSymbol: false,
    itemStyle: { color: s.color },
    lineStyle: { color: s.color, width: 2 },
    areaStyle: { color: s.color, opacity: 0.2 }
  }))
})

// miller projection, the reference map uses it
const miller = lat => 1.25 * Math.log(Math.tan(Math.PI / 4 + 0.4 * lat * Math.PI / 180))
const millerInv = y => (Math.atan(Math.exp(y / 1.25)) - Math.PI / 4) / 0.4 * 180 / Math.PI
const MAP_PX_PER_DEG = 1.795
const MAP_R = MAP_PX_PER_DEG * 180 / Math.PI
const MAP_X0 = 354 - 13   // longitude 0, in chart pixels
const MAP_Y0 = 822 - 570  // equator, in chart pixels
const LON_W = -180, LON_E = 190, LAT_N = 85, LAT_S = -60

echarts.registerMap('world', {
  type: 'FeatureCollection',
  features: Object.keys(geoShapes).map(name => ({
    type: 'Feature',
    properties: { name },
    geometry: { type: 'MultiPolygon', coordinates: geoShapes[name].map(ring => [ring]) }
  }))
})

const mapChart = echarts.init(document.getElementById('mapChart'))
mapChart.setOption({
  animation: false,
  visualMap: {
    show: false, min: 0, max: 7890,
    inRange: { color: ['#c5c3f1', '#6c68b4'] }
  },
  series: [{
    type: 'map',
    map: 'world',
    silent: true,
    roam: false,
    projection: {
      project: p => [p[0] * Math.PI / 180, -miller(p[1])],
      unproject: p => [p[0] * 180 / Math.PI, millerInv(-p[1])]
    },
    boundingCoords: [[LON_W, LAT_N], [LON_E, LAT_S]],
    left: MAP_X0 + LON_W * MAP_PX_PER_DEG,
    top: MAP_Y0 - MAP_R * miller(LAT_N),
    width: (LON_E - LON_W) * MAP_PX_PER_DEG,
    height: MAP_R * (miller(LAT_N) - miller(LAT_S)),
    label: { show: false },
    itemStyle: { areaColor: '#fff', borderColor: '#e6e6e6', borderWidth: 1 },
    // greenland carries no data and stays blank
    data: Object.keys(geoShapes).filter(n => n !== 'Greenland').map(n => {
      const i = countries.indexOf(n)
      return { name: n, value: i >= 0 ? countryValues[i] : 0 }
    })
  }]
})

const flagRich = { name: { fontFamily: 'Inter', fontSize: 15.3, color: '#666', padding: [2, 0, 0, 4] } }
countryFlags.forEach((img, i) => {
  flagRich['f' + i] = { width: 20, height: 14, padding: [1, 0, 0, 0], backgroundColor: { image: img } }
})

const barChart = echarts.init(document.getElementById('barChart'))
barChart.setOption({
  animation: false,
  grid: { left: 337, right: 1, top: 6, height: 376.2, outerBoundsMode: 'none' },
  xAxis: { type: 'value', min: 0, max: 7890, show: false },
  yAxis: [
    {
      type: 'category', inverse: true, data: countries, position: 'left',
      axisLine: { show: false }, axisTick: { show: false },
      axisLabel: {
        margin: 329, align: 'left', rich: flagRich,
        formatter: (v, i) => `{f${i}|}{name|${v}}`
      }
    },
    {
      type: 'category', inverse: true, data: countryLabels, position: 'left',
      axisLine: { show: false }, axisTick: { show: false },
      axisLabel: {
        margin: 19,
        rich: { v: { padding: [2, 0, 0, 0], fontFamily: 'Inter', fontSize: 15.3, color: '#777' } },
        formatter: v => `{v|${v}}`
      }
    }
  ],
  series: [{
    type: 'bar',
    data: countryValues,
    barWidth: 24,
    itemStyle: { color: '#7b72e6', borderRadius: [2, 1, 1, 2] }
  }]
})
</script>
</body>
</html>
